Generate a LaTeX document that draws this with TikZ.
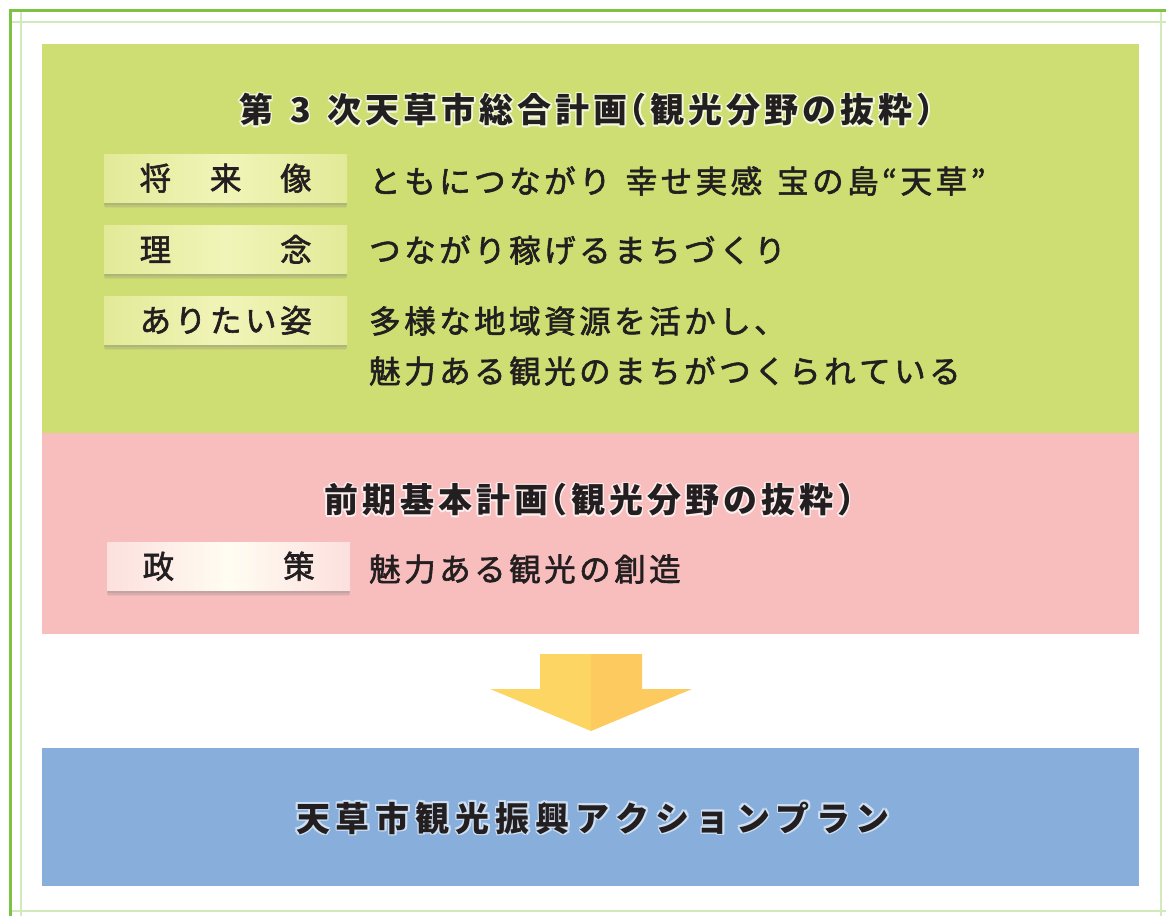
\documentclass[tikz,border=0pt]{standalone}
\usepackage{fontspec}
\usetikzlibrary{shadows}
\newfontfamily\jp{Noto Sans CJK JP}
\newfontfamily\jpm{Noto Sans CJK JP}
\definecolor{gbox}{HTML}{CEDE73}
\definecolor{pbox}{HTML}{F8BDBD}
\definecolor{bbox}{HTML}{88AFDB}
\definecolor{arrL}{HTML}{FDD563}
\definecolor{arrR}{HTML}{FDCA60}
\definecolor{bdk}{HTML}{7DC242}
\definecolor{blt}{HTML}{D2E9BC}
\definecolor{lgA}{HTML}{E2EA98}
\definecolor{lgB}{HTML}{F1F4B8}
\definecolor{lpA}{HTML}{FCE0DE}
\definecolor{lpB}{HTML}{FFFDF3}
\definecolor{txt}{HTML}{231F20}
\ExplSyntaxOn
\NewDocumentCommand\trk{m m}{ \tl_map_inline:nn {#2} { ##1 \kern #1 } \kern -#1 }
\ExplSyntaxOff
\newcommand\heavy[1]{\special{pdf:code q 2 Tr 0.6 w}#1\special{pdf:code Q}}
\newcommand\glowit[2]{\leavevmode\rlap{\color{#1}%
 \rlap{\kern1.6pt#2}\rlap{\kern-1.6pt#2}%
 \rlap{\raisebox{1.6pt}{#2}}\rlap{\raisebox{-1.6pt}{#2}}%
 \rlap{\kern1.1pt\raisebox{1.1pt}{#2}}\rlap{\kern-1.1pt\raisebox{1.1pt}{#2}}%
 \rlap{\kern1.1pt\raisebox{-1.1pt}{#2}}\rlap{\kern-1.1pt\raisebox{-1.1pt}{#2}}}%
 #2}
\tikzset{
 ttl/.style={anchor=west, inner sep=0pt, text=txt, font=\jp\bfseries\fontsize{34}{40}\selectfont},
 body/.style={anchor=west, inner sep=0pt, text=txt, font=\jpm\fontsize{31.5}{36}\selectfont},
 lbl/.style={anchor=north west, inner sep=0pt, minimum width=243pt, minimum height=48pt,
   text=txt, font=\jpm\fontsize{31.5}{36}\selectfont,
   drop shadow={shadow xshift=0pt, shadow yshift=-6pt, shadow scale=0.99, opacity=0.10},
   drop shadow={shadow xshift=0pt, shadow yshift=-4.5pt, opacity=0.16},
   drop shadow={shadow xshift=0pt, shadow yshift=-3pt, opacity=0.22}},
 lblg/.style={lbl, left color=lgA, right color=lgA, middle color=lgB},
 lblp/.style={lbl, left color=lpA, right color=lpA, middle color=lpB},
 lightline/.style={draw=blt, line width=2pt},
 darkline/.style={draw=bdk, line width=3pt},
}
\begin{document}
\begin{tikzpicture}[x=1pt,y=-1pt]
\useasboundingbox (0,0) rectangle (1166,916);
% frame
\draw[lightline] (9,21.5) -- (1166,21.5);
\draw[lightline] (9,911) -- (1166,911);
\draw[lightline] (21,9) -- (21,916);
\draw[lightline] (1161,9) -- (1161,916);
\draw[darkline] (10,916) -- (10,10) -- (1166,10);
% panels
\fill[gbox] (42,44) rectangle (1139,433);
\fill[pbox] (42,433) rectangle (1139,634);
\fill[bbox] (42,748) rectangle (1139,886);
% arrow
\fill[arrL] (540,654) -- (591,654) -- (591,731) -- (490,689) -- (540,689) -- cycle;
\fill[arrR] (591,654) -- (642,654) -- (642,689) -- (692,689) -- (591,731) -- cycle;
% green section
\node[ttl] (t1) at (239,110) {\glowit{gbox!25!white}{\trk{4pt}{第{\kern9pt}3{\kern9pt}次天草市総合計画{\kern-23pt}（観光分野の抜粋）}}};
\node[lblg] (l1) at (104,154) {\heavy{\makebox[172pt]{将\hfill 来\hfill 像}}};
\node[lblg] (l2) at (104,225) {\heavy{\makebox[172pt]{理\hfill 念}}};
\node[lblg] (l3) at (104,296) {\heavy{\makebox[172pt]{あ\hfill り\hfill た\hfill い\hfill 姿}}};
\node[body] (b1) at (369,181) {\heavy{\trk{3.5pt}{ともにつながり{\kern8pt}幸せ実感{\kern8pt}宝の島“天草”}}};
\node[body] (b2) at (369,250) {\heavy{\trk{3.5pt}{つながり稼げるまちづくり}}};
\node[body] (b3) at (369,321) {\heavy{\trk{3.5pt}{多様な地域資源を活かし、}}};
\node[body] (b4) at (369,371) {\heavy{\trk{3.5pt}{魅力ある観光のまちがつくられている}}};
% pink section
\node[ttl] (t2) at (324,500) {\glowit{pbox!25!white}{\trk{4pt}{前期基本計画{\kern-23pt}（観光分野の抜粋）}}};
\node[lblp] (l4) at (107,542) {\heavy{\makebox[172pt]{政\hfill 策}}};
\node[body] (b5) at (369,569) {\heavy{\trk{3.5pt}{魅力ある観光の創造}}};
% blue
\node[ttl, anchor=center] (t3) at (593,818) {\glowit{bbox!40!white}{\trk{6pt}{天草市観光振興アクションプラン}}};
\end{tikzpicture}
\end{document}
